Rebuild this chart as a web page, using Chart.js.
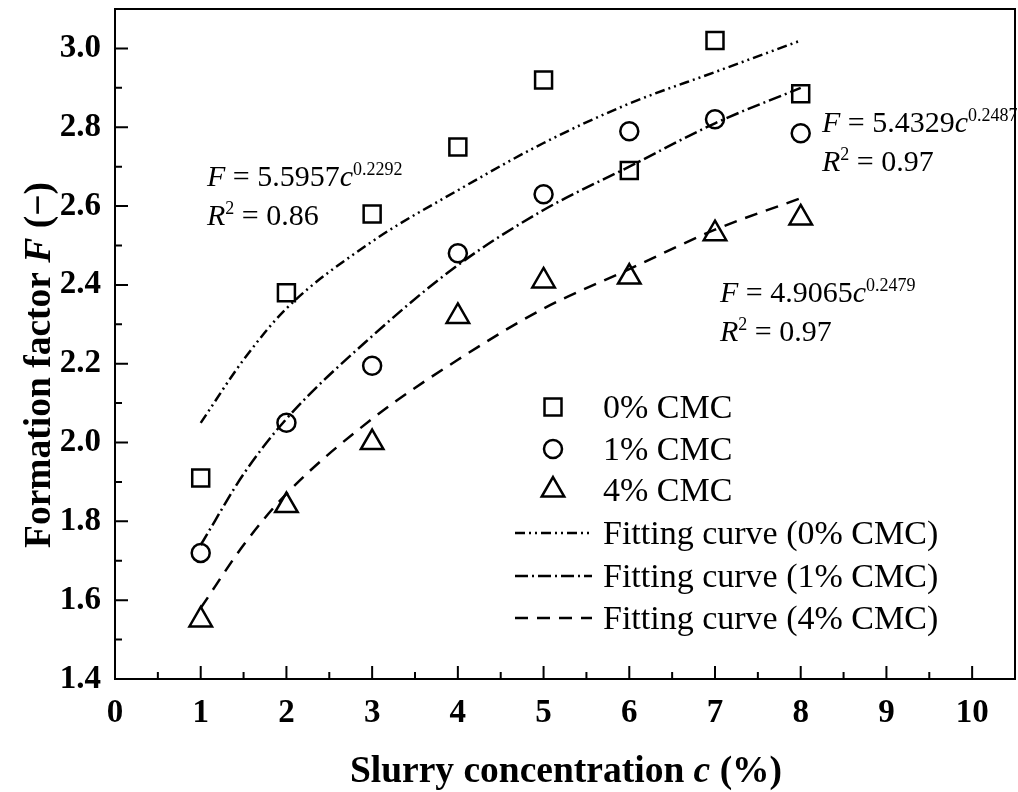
<!DOCTYPE html>
<html>
<head>
<meta charset="utf-8">
<script src="https://cdn.jsdelivr.net/npm/chart.js@4.4.0/dist/chart.umd.min.js"></script>
<style>
  html, body { margin: 0; padding: 0; background: #fff; }
</style>
</head>
<body>
<canvas id="formationChart" width="1018" height="792"></canvas>
<script>
// measured values
const concentration = [1, 2, 3, 4, 5, 6, 7, 8];
const cmc0 = [1.91, 2.38, 2.58, 2.75, 2.92, 2.69, 3.02, 2.885];
const cmc1 = [1.72, 2.05, 2.195, 2.48, 2.63, 2.79, 2.82, 2.785];
const cmc4 = [1.55, 1.84, 2.0, 2.32, 2.41, 2.42, 2.53, 2.57];

// fitting curves
const fitX = [1, 1.5, 2, 3, 4, 5, 6, 7, 8];
const fit0 = [2.05, 2.21, 2.34, 2.51, 2.64, 2.76, 2.86, 2.94, 3.02];
const fit1 = [1.74, 1.92, 2.06, 2.27, 2.45, 2.59, 2.70, 2.81, 2.90];
const fit4 = [1.58, 1.74, 1.87, 2.06, 2.21, 2.34, 2.44, 2.54, 2.62];

const legendLabels = ['0% CMC', '1% CMC', '4% CMC',
    'Fitting curve (0% CMC)', 'Fitting curve (1% CMC)', 'Fitting curve (4% CMC)'];

const SERIF = '"Liberation Serif", "Times New Roman", serif';

function points(xs, ys) {
    return xs.map((x, i) => ({ x: x, y: ys[i] }));
}

function markerSet(label, ys, style, radius) {
    return {
        label: label,
        data: points(concentration, ys),
        showLine: false,
        pointStyle: style,
        pointRadius: radius,
        pointHoverRadius: radius,
        pointBorderWidth: 2.5,
        borderColor: '#000',
        backgroundColor: 'rgba(0,0,0,0)'
    };
}

function fitSet(label, ys, dash) {
    return {
        label: label,
        data: points(fitX, ys),
        showLine: true,
        pointRadius: 0,
        borderColor: '#000',
        borderWidth: 2.5,
        borderDash: dash,
        tension: 0.4,
        cubicInterpolationMode: 'monotone',
        fill: false
    };
}

// text with italic letters and superscripts
function drawRich(ctx, x, y, parts, size) {
    parts.forEach(p => {
        const fs = p.sup ? size * 0.6 : size;
        ctx.font = (p.italic ? 'italic ' : '') + (p.bold ? 'bold ' : '') + fs + 'px ' + SERIF;
        ctx.fillText(p.t, x, p.sup ? y - size * 0.38 : y);
        x += ctx.measureText(p.t).width;
    });
    return x;
}

function richWidth(ctx, parts, size) {
    let w = 0;
    parts.forEach(p => {
        const fs = p.sup ? size * 0.6 : size;
        ctx.font = (p.italic ? 'italic ' : '') + (p.bold ? 'bold ' : '') + fs + 'px ' + SERIF;
        w += ctx.measureText(p.t).width;
    });
    return w;
}

const axisFrame = {
    id: 'axisFrame',
    afterDatasetsDraw(chart) {
        const { ctx, chartArea: a, scales: { x, y } } = chart;
        ctx.save();
        ctx.strokeStyle = '#000';
        ctx.lineWidth = 2;
        ctx.setLineDash([]);
        ctx.strokeRect(a.left, a.top, a.right - a.left, a.bottom - a.top);
        ctx.beginPath();
        x.ticks.forEach(t => {
            const px = x.getPixelForValue(t.value);
            ctx.moveTo(px, a.bottom);
            ctx.lineTo(px, a.bottom - 13);
            const mx = x.getPixelForValue(t.value + 0.5);
            if (mx < a.right - 2) {
                ctx.moveTo(mx, a.bottom);
                ctx.lineTo(mx, a.bottom - 7);
            }
        });
        y.ticks.forEach(t => {
            const py = y.getPixelForValue(t.value);
            ctx.moveTo(a.left, py);
            ctx.lineTo(a.left + 13, py);
            const my = y.getPixelForValue(t.value + 0.1);
            if (my > a.top + 2) {
                ctx.moveTo(a.left, my);
                ctx.lineTo(a.left + 7, my);
            }
        });
        ctx.stroke();
        ctx.restore();
    }
};

const textLayer = {
    id: 'textLayer',
    afterDraw(chart) {
        const ctx = chart.ctx;
        const ds = chart.data.datasets;
        ctx.save();
        ctx.fillStyle = '#000';
        ctx.textBaseline = 'alphabetic';
        ctx.textAlign = 'left';

        // axis titles
        const xTitle = [{ t: 'Slurry concentration ', bold: true }, { t: 'c', bold: true, italic: true }, { t: ' (%)', bold: true }];
        const xw = richWidth(ctx, xTitle, 37.5);
        drawRich(ctx, 566 - xw / 2, 782, xTitle, 37.5);

        const yTitle = [{ t: 'Formation factor ', bold: true }, { t: 'F', bold: true, italic: true }, { t: ' (\u2212)', bold: true }];
        const yw = richWidth(ctx, yTitle, 37.5);
        ctx.save();
        ctx.translate(50, 365);
        ctx.rotate(-Math.PI / 2);
        drawRich(ctx, -yw / 2, 0, yTitle, 37.5);
        ctx.restore();

        // fit equations
        const eqs = [
            { x: 207, y: 186, a: '5.5957', b: '0.2292', r: '0.86' },
            { x: 822, y: 132, a: '5.4329', b: '0.2487', r: '0.97' },
            { x: 720, y: 302, a: '4.9065', b: '0.2479', r: '0.97' }
        ];
        eqs.forEach(e => {
            drawRich(ctx, e.x, e.y, [{ t: 'F', italic: true }, { t: ' = ' + e.a }, { t: 'c', italic: true }, { t: e.b, sup: true }], 30);
            drawRich(ctx, e.x, e.y + 39, [{ t: 'R', italic: true }, { t: '2', sup: true }, { t: ' = ' + e.r }], 30);
        });

        // legend
        const rows = [407, 449, 490, 533, 576, 618];
        rows.forEach((ry, i) => {
            const d = ds[i];
            ctx.save();
            ctx.strokeStyle = '#000';
            if (i < 3) {
                ctx.lineWidth = d.pointBorderWidth;
                ctx.fillStyle = 'rgba(0,0,0,0)';
                Chart.helpers.drawPoint(ctx, {
                    pointStyle: d.pointStyle,
                    radius: d.pointRadius,
                    borderWidth: d.pointBorderWidth,
                    rotation: 0
                }, 553, ry);
            } else {
                ctx.lineWidth = d.borderWidth;
                ctx.setLineDash(d.borderDash);
                ctx.beginPath();
                ctx.moveTo(515, ry);
                ctx.lineTo(592, ry);
                ctx.stroke();
            }
            ctx.restore();
            ctx.font = '34px ' + SERIF;
            ctx.fillText(legendLabels[i], 603, ry + 11);
        });
        ctx.restore();
    }
};

const ctx = document.getElementById('formationChart').getContext('2d');
new Chart(ctx, {
    type: 'scatter',
    data: {
        datasets: [
            markerSet(legendLabels[0], cmc0, 'rect', 12),
            markerSet(legendLabels[1], cmc1, 'circle', 9),
            markerSet(legendLabels[2], cmc4, 'triangle', 13),
            fitSet(legendLabels[3], fit0, [10, 4, 2, 4, 2, 4]),
            fitSet(legendLabels[4], fit1, [13, 4, 2, 4]),
            fitSet(legendLabels[5], fit4, [13, 9])
        ]
    },
    options: {
        responsive: false,
        animation: false,
        layout: { autoPadding: false, padding: { top: 9, right: 3, left: 0, bottom: 0 } },
        plugins: {
            legend: { display: false },
            tooltip: { enabled: false }
        },
        scales: {
            x: {
                type: 'linear',
                min: 0,
                max: 10.5,
                grid: { display: false, drawTicks: false },
                border: { display: false },
                ticks: {
                    stepSize: 1,
                    includeBounds: false,
                    padding: 15,
                    color: '#000',
                    font: { family: SERIF, size: 33, weight: 'bold' }
                },
                afterFit(scale) {
                    scale.height = 113;
                    scale.paddingLeft = 0;
                    scale.paddingRight = 0;
                }
            },
            y: {
                type: 'linear',
                min: 1.4,
                max: 3.1,
                grid: { display: false, drawTicks: false },
                border: { display: false },
                ticks: {
                    stepSize: 0.2,
                    includeBounds: false,
                    padding: 14,
                    color: '#000',
                    font: { family: SERIF, size: 33, weight: 'bold' },
                    callback: v => v.toFixed(1)
                },
                afterFit(scale) {
                    scale.width = 115;
                    scale.paddingTop = 0;
                    scale.paddingBottom = 0;
                }
            }
        }
    },
    plugins: [axisFrame, textLayer]
});
</script>
</body>
</html>
